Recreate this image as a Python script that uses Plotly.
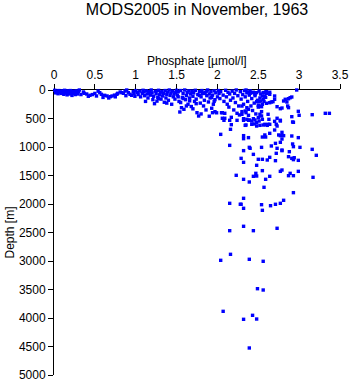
import plotly.graph_objects as go

# MODS2005 phosphate casts, November 1963: (phosphate [umol/l], depth [m])
surface_low = [
    (0.01, 5), (0.03, 20), (0.04, 45), (0.06, 10), (0.07, 35), (0.09, 60), (0.10, 15),
    (0.11, 40), (0.13, 5), (0.14, 25), (0.15, 55), (0.17, 15), (0.18, 35), (0.19, 70),
    (0.20, 10), (0.21, 45), (0.23, 20), (0.24, 60), (0.25, 30), (0.26, 80), (0.27, 15),
    (0.28, 45), (0.30, 25), (0.12, 75), (0.16, 85), (0.22, 95), (0.05, 65), (0.08, 30),
    (0.02, 50), (0.29, 70),
    (0.31, 0), (0.36, 35), (0.37, 58), (0.40, 70), (0.44, 93), (0.47, 80), (0.50, 60),
    (0.52, 105), (0.56, 47), (0.58, 75), (0.62, 93), (0.65, 105), (0.69, 117), (0.71, 105),
    (0.74, 90), (0.77, 75), (0.78, 58), (0.81, 35), (0.83, 47), (0.85, 58), (0.87, 18),
    (0.89, 0), (0.91, 47), (0.93, 75), (0.95, 93), (0.97, 30), (0.98, 60), (0.99, 110),
    (0.60, 130), (0.67, 140), (0.42, 110), (0.33, 80), (0.54, 20), (0.75, 120), (0.88, 100),
]

surface_mid = [
    (1.00, 10), (1.02, 40), (1.03, 80), (1.05, 20), (1.06, 120), (1.08, 60), (1.09, 5),
    (1.10, 35), (1.11, 100), (1.13, 15), (1.14, 70), (1.15, 140), (1.17, 30), (1.18, 90),
    (1.19, 0), (1.20, 50), (1.21, 170), (1.22, 110), (1.24, 20), (1.25, 65), (1.26, 195),
    (1.27, 130), (1.28, 5), (1.29, 85), (1.30, 45), (1.31, 160), (1.32, 25), (1.33, 105),
    (1.34, 60), (1.35, 215), (1.36, 10), (1.37, 140), (1.38, 75), (1.39, 35), (1.40, 180),
    (1.41, 0), (1.42, 95), (1.43, 55), (1.44, 250), (1.45, 20), (1.46, 120), (1.47, 70),
    (1.48, 160), (1.49, 40), (1.50, 5), (1.12, 200), (1.23, 240), (1.38, 230), (1.16, 55),
    (1.28, 150),
    (1.51, 90), (1.52, 30), (1.53, 200), (1.54, 386), (1.55, 10), (1.56, 310), (1.57, 130),
    (1.58, 60), (1.59, 339), (1.60, 0), (1.61, 170), (1.62, 100), (1.63, 40), (1.64, 250),
    (1.65, 15), (1.66, 140), (1.67, 70), (1.68, 290), (1.69, 20), (1.70, 110), (1.71, 50),
    (1.72, 200), (1.73, 5), (1.74, 160), (1.75, 398), (1.76, 80), (1.77, 456), (1.78, 30),
    (1.79, 230), (1.80, 120), (1.81, 10), (1.82, 60), (1.83, 280), (1.84, 180), (1.85, 40),
    (1.86, 350), (1.87, 100), (1.88, 0), (1.89, 210), (1.90, 70), (1.91, 140), (1.92, 25),
    (1.93, 320), (1.94, 90), (1.95, 250), (1.96, 15), (1.97, 170), (1.98, 50), (1.99, 400),
    (2.00, 120), (1.55, 220), (1.62, 280), (1.70, 330), (1.80, 420), (1.90, 460),
    (1.58, 150), (1.66, 190), (1.74, 240), (1.84, 60), (1.96, 200), (1.52, 120),
    (1.69, 35), (1.78, 95), (1.87, 20), (1.93, 130), (1.94, 398), (1.97, 381),
]

surface_high = [
    (2.01, 10), (2.02, 60), (2.03, 150), (2.04, 30), (2.05, 398), (2.06, 496), (2.07, 90),
    (2.08, 200), (2.09, 409), (2.10, 5), (2.11, 120), (2.12, 250), (2.13, 40), (2.14, 300),
    (2.15, 70), (2.16, 180), (2.17, 479), (2.18, 20), (2.19, 140), (2.20, 350), (2.21, 60),
    (2.22, 220), (2.23, 0), (2.24, 409), (2.25, 100), (2.26, 280), (2.27, 438), (2.28, 30),
    (2.29, 160), (2.30, 380), (2.31, 80), (2.32, 250), (2.33, 10), (2.34, 120), (2.36, 50),
    (2.37, 200), (2.39, 90), (2.40, 15), (2.41, 280), (2.42, 150), (2.43, 360), (2.44, 40),
    (2.45, 230), (2.46, 100), (2.47, 420), (2.49, 180), (2.50, 300), (2.51, 20),
    (2.52, 140), (2.53, 70), (2.54, 380), (2.55, 250), (2.56, 45), (2.57, 200), (2.58, 110),
    (2.60, 30),
    (2.35, 0), (2.37, 35), (2.40, 58), (2.43, 47), (2.46, 75), (2.48, 47), (2.51, 205),
    (2.53, 193), (2.55, 105), (2.56, 163), (2.58, 47), (2.59, 35), (2.64, 75), (2.64, 223),
    (2.66, 210), (2.70, 105), (2.70, 163), (2.73, 293), (2.77, 328), (2.79, 316),
    (2.81, 193), (2.83, 163), (2.85, 210), (2.87, 153), (2.89, 135), (2.91, 123),
    (2.86, 281), (2.87, 310), (2.99, 374), (3.00, 444), (3.16, 433), (3.32, 409),
    (3.37, 409), (2.91, 468), (2.92, 561), (2.77, 531), (2.73, 496), (2.62, 426),
    (2.63, 514), (2.52, 426), (2.54, 456), (2.55, 514), (2.44, 503), (2.46, 526),
    (2.50, 486), (2.48, 574), (2.36, 514), (2.39, 526), (2.32, 503), (2.30, 426),
    (2.38, 444), (2.42, 602), (2.58, 602), (2.62, 602), (2.72, 602), (2.36, 310),
    (2.38, 339), (2.34, 368), (2.30, 281), (2.35, 398), (2.50, 268), (2.52, 281),
    (2.54, 293), (2.97, 0), (2.60, 58), (2.64, 40), (2.59, 128), (2.48, 205), (2.68, 205),
    (2.60, 233), (2.06, 398), (2.09, 496),
]

intermediate = [
    (2.08, 532), (2.15, 532), (2.24, 532), (2.32, 532), (2.38, 532), (2.17, 608),
    (2.34, 620), (2.16, 690), (2.04, 778), (2.32, 801), (2.32, 854), (2.38, 836),
    (2.15, 971), (2.35, 614), (2.42, 544), (2.45, 596), (2.48, 632), (2.51, 544),
    (2.52, 620), (2.56, 614), (2.59, 608), (2.61, 620), (2.64, 602), (2.70, 550),
    (2.73, 632), (2.77, 544), (2.93, 567), (2.70, 702), (2.79, 743), (2.64, 760),
    (2.58, 789), (2.59, 825), (2.55, 825), (2.75, 789), (2.77, 801), (2.81, 801),
    (2.91, 807), (2.99, 836), (2.79, 860), (2.77, 918), (2.71, 936), (2.92, 947),
    (2.93, 994), (2.66, 982), (2.73, 1023), (2.79, 1053), (3.01, 1006), (3.16, 1041),
    (2.39, 1006), (2.40, 1023), (2.54, 1006),
]

deep = [
    (2.32, 1064), (2.44, 1129), (2.29, 1199), (2.32, 1269), (2.50, 1216), (2.55, 1216),
    (2.61, 1228), (2.64, 1181), (2.72, 1111), (2.79, 1064), (2.71, 1240), (2.87, 1170),
    (2.91, 1199), (2.93, 1222), (2.99, 1234), (2.88, 1082), (3.21, 1146), (2.48, 1321),
    (2.55, 1415), (2.77, 1427), (2.79, 1404), (2.89, 1462), (2.99, 1427), (2.47, 1462),
    (2.94, 1188), (2.23, 1497), (2.44, 1514), (2.48, 1509), (2.64, 1514), (2.87, 1503),
    (2.93, 1503), (3.17, 1532), (2.32, 1567), (2.39, 1614), (2.59, 1567), (2.57, 1707),
    (2.93, 1801), (2.32, 1900), (2.15, 1988), (2.28, 2005), (2.29, 2005), (2.54, 2012),
    (2.65, 2030), (2.71, 2005), (2.77, 1988), (2.81, 1935), (2.32, 2075), (2.55, 2111),
    (2.32, 2391), (2.15, 2468), (2.44, 2468), (2.73, 2426),
    (2.16, 2883), (2.04, 2988), (2.39, 2970), (2.56, 3005), (2.49, 3486), (2.56, 3509),
    (2.07, 3883), (2.43, 3953), (2.32, 4023), (2.48, 4018), (2.39, 4526),
]

x_ticks = [0, 0.5, 1, 1.5, 2, 2.5, 3, 3.5]
y_ticks = [0, 500, 1000, 1500, 2000, 2500, 3000, 3500, 4000, 4500, 5000]

samples = surface_low + surface_mid + surface_high + intermediate + deep
phosphate = [p for p, d in samples]
depth = [d for p, d in samples]

FONT = "Liberation Sans, Arial, Helvetica, sans-serif"

fig = go.Figure(
    go.Scatter(
        x=phosphate,
        y=depth,
        mode="markers",
        marker=dict(symbol="square", size=3.4, color="#0000ff", line=dict(width=0)),
        cliponaxis=False,
        hoverinfo="x+y",
    )
)

axis_common = dict(
    showgrid=False,
    zeroline=False,
    showline=True,
    linecolor="black",
    linewidth=1,
    ticks="outside",
    ticklen=5,
    tickwidth=1,
    tickcolor="black",
    tickfont=dict(family=FONT, size=12, color="black"),
    layer="below traces",
    automargin=False,
)

fig.update_layout(
    width=350,
    height=384,
    margin=dict(l=54, r=10, t=90, b=9),
    paper_bgcolor="white",
    plot_bgcolor="white",
    showlegend=False,
    font=dict(family=FONT, color="black"),
    title=dict(
        text="MODS2005 in November, 1963",
        font=dict(family=FONT, size=16, color="black"),
        x=0.5,
        xref="paper",
        xanchor="center",
        y=1 - 9 / 384,
        yref="container",
        yanchor="middle",
    ),
    xaxis=dict(
        axis_common,
        side="top",
        range=[0, 3.5],
        tickvals=x_ticks,
        ticktext=[f"{v:g}" for v in x_ticks],
    ),
    yaxis=dict(
        axis_common,
        range=[5000, 0],
        tickvals=y_ticks,
        ticktext=[str(v) for v in y_ticks],
    ),
    annotations=[
        dict(
            text="Phosphate [µmol/l]",
            xref="paper", yref="paper",
            x=0.5, y=1 + 29 / 285,
            xanchor="center", yanchor="middle",
            showarrow=False,
            font=dict(family=FONT, size=12, color="black"),
        ),
        dict(
            text="Depth [m]",
            xref="paper", yref="paper",
            x=-45 / 286, y=0.5,
            xanchor="center", yanchor="middle",
            textangle=-90,
            showarrow=False,
            font=dict(family=FONT, size=12, color="black"),
        ),
    ],
)

fig.write_html("out.html")
